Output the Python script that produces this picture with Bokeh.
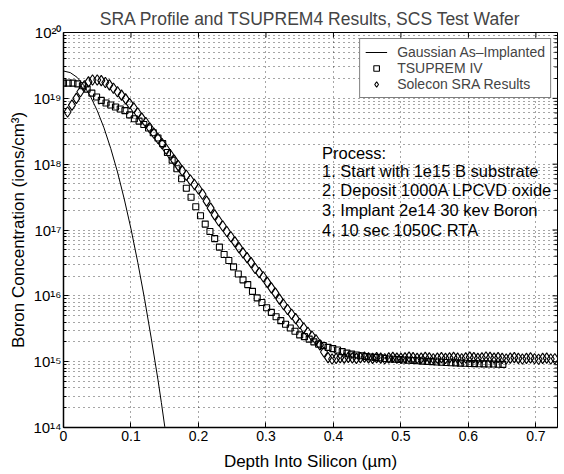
import math
from bokeh.plotting import figure
from bokeh.models import (FixedTicker, Label, Legend, LegendItem, CustomJSTickFormatter)
from bokeh.embed import file_html
from bokeh.resources import INLINE

# ---------------- data ----------------
gauss_x = [0.0, 0.01, 0.02, 0.03, 0.04, 0.05, 0.06, 0.07, 0.08, 0.09, 0.10,
           0.11, 0.12, 0.13, 0.14, 0.145, 0.15, 0.155]
gauss_y = [2.6e19, 2.46e19, 2.09e19, 1.58e19, 1.07e19, 6.5e18, 3.56e18, 1.73e18,
           7.6e17, 2.96e17, 1.04e17, 3.24e16, 9.1e15, 2.28e15, 5.3e14, 2.4e14,
           1.04e14, 4.5e13]

tsup_x = [0.000, 0.007, 0.014, 0.021, 0.028, 0.035, 0.042, 0.049, 0.056, 0.063,
          0.070, 0.077, 0.084, 0.091, 0.098, 0.105, 0.112, 0.119, 0.126, 0.133,
          0.140, 0.147, 0.154, 0.161, 0.168, 0.175, 0.182, 0.189, 0.196, 0.203,
          0.210, 0.217, 0.224, 0.231, 0.238, 0.245, 0.252, 0.259, 0.266, 0.273,
          0.280, 0.287, 0.294, 0.301, 0.308, 0.315, 0.322, 0.329, 0.336, 0.343,
          0.350, 0.357, 0.364, 0.371, 0.378, 0.385, 0.392, 0.399, 0.406, 0.413,
          0.420, 0.427, 0.434, 0.441, 0.448, 0.455, 0.462, 0.469, 0.476, 0.483,
          0.490, 0.497, 0.504, 0.511, 0.518, 0.525, 0.532, 0.539, 0.546, 0.553,
          0.560, 0.567, 0.574, 0.581, 0.588, 0.595, 0.602, 0.609, 0.616, 0.623,
          0.630, 0.637, 0.644, 0.651]
tsup_y = [1.7e19, 1.7e19, 1.7e19, 1.66e19, 1.55e19, 1.38e19, 1.2e19, 1.05e19, 9.3e18, 8.5e18,
          7.9e18, 7.4e18, 6.9e18, 6.5e18, 5.6e18, 4.9e18, 4.5e18, 4.0e18, 3.55e18, 3.0e18,
          2.5e18, 2.05e18, 1.5e18, 1.15e18, 8.5e17, 6.0e17, 4.3e17, 3.15e17, 2.25e17, 1.65e17,
          1.23e17, 9.5e16, 7.4e16, 5.5e16, 4.25e16, 3.45e16, 2.75e16, 2.15e16, 1.75e16, 1.48e16,
          1.17e16, 9.3e15, 7.9e15, 6.6e15, 5.6e15, 4.8e15, 4.2e15, 3.7e15, 3.25e15, 2.9e15,
          2.55e15, 2.4e15, 2.2e15, 2.0e15, 1.85e15, 1.75e15, 1.65e15, 1.58e15, 1.5e15, 1.42e15,
          1.35e15, 1.3e15, 1.26e15, 1.23e15, 1.2e15, 1.18e15, 1.16e15, 1.14e15, 1.12e15, 1.1e15,
          1.09e15, 1.08e15, 1.06e15, 1.05e15, 1.04e15, 1.03e15, 1.02e15, 1.01e15, 1.0e15, 9.9e14,
          9.8e14, 9.7e14, 9.65e14, 9.6e14, 9.5e14, 9.45e14, 9.4e14, 9.35e14, 9.3e14, 9.25e14,
          9.2e14, 9.2e14, 9.15e14, 9.1e14]

sra_x = [0.006, 0.0125, 0.019, 0.025, 0.031, 0.037, 0.043, 0.050, 0.056, 0.062,
         0.068, 0.074, 0.080, 0.086, 0.092, 0.098, 0.104, 0.110, 0.116, 0.122,
         0.128, 0.134, 0.140, 0.146, 0.152, 0.158, 0.164, 0.170, 0.176, 0.182,
         0.188, 0.194, 0.200, 0.206, 0.212, 0.218, 0.224, 0.230, 0.236, 0.242,
         0.248, 0.254, 0.260, 0.266, 0.272, 0.278, 0.284, 0.290, 0.296, 0.302,
         0.308, 0.314, 0.320, 0.326, 0.332, 0.338, 0.344, 0.350, 0.356, 0.362,
         0.368, 0.374, 0.380, 0.386, 0.392, 0.398, 0.404, 0.410, 0.416, 0.422,
         0.428, 0.434, 0.440, 0.446, 0.452, 0.458, 0.464, 0.470, 0.476, 0.482,
         0.488, 0.494, 0.500, 0.506, 0.512, 0.518, 0.524, 0.530, 0.536, 0.542,
         0.548, 0.554, 0.560, 0.566, 0.572, 0.578, 0.584, 0.590, 0.596, 0.602,
         0.608, 0.614, 0.620, 0.626, 0.632, 0.638, 0.644, 0.650, 0.656, 0.662,
         0.668, 0.674, 0.680, 0.686, 0.692, 0.698, 0.704, 0.710, 0.716, 0.722,
         0.728]
sra_y = [6.2e18, 7.9e18, 1.0e19, 1.26e19, 1.55e19, 1.78e19, 1.9e19, 1.9e19, 1.86e19, 1.74e19,
         1.6e19, 1.42e19, 1.26e19, 1.12e19, 9.8e18, 8.3e18, 7.2e18, 6.0e18, 5.0e18, 4.3e18,
         3.55e18, 2.95e18, 2.45e18, 2.05e18, 1.7e18, 1.4e18, 1.15e18, 9.5e17, 7.9e17, 6.8e17,
         5.75e17, 4.9e17, 4.2e17, 3.5e17, 2.75e17, 2.15e17, 1.7e17, 1.38e17, 1.15e17, 9.5e16,
         7.9e16, 6.6e16, 5.4e16, 4.5e16, 3.8e16, 3.2e16, 2.6e16, 2.25e16, 1.95e16, 1.6e16,
         1.32e16, 1.1e16, 8.9e15, 7.4e15, 6.2e15, 5.25e15, 4.5e15, 3.8e15, 3.25e15, 2.8e15,
         2.45e15, 2.15e15, 1.8e15, 1.4e15, 1.15e15, 1.1e15, 1.12e15, 1.15e15, 1.13e15, 1.16e15,
         1.14e15, 1.12e15, 1.15e15, 1.17e15, 1.14e15, 1.12e15, 1.15e15, 1.13e15, 1.11e15, 1.14e15,
         1.16e15, 1.13e15, 1.12e15, 1.14e15, 1.17e15, 1.15e15, 1.12e15, 1.13e15, 1.16e15, 1.14e15,
         1.11e15, 1.13e15, 1.15e15, 1.12e15, 1.14e15, 1.16e15, 1.13e15, 1.11e15, 1.14e15, 1.17e15,
         1.15e15, 1.12e15, 1.14e15, 1.18e15, 1.16e15, 1.13e15, 1.15e15, 1.12e15, 1.1e15, 1.13e15,
         1.15e15, 1.12e15, 1.1e15, 1.12e15, 1.14e15, 1.11e15, 1.09e15, 1.12e15, 1.13e15, 1.1e15,
         1.11e15]

series_labels = ["Gaussian As\u2013Implanted", "TSUPREM IV", "Solecon SRA Results"]

x_ticks = [0, 0.1, 0.2, 0.3, 0.4, 0.5, 0.6, 0.7]
x_tick_labels = ["0", "0.1", "0.2", "0.3", "0.4", "0.5", "0.6", "0.7"]
y_ticks = [1e14, 1e15, 1e16, 1e17, 1e18, 1e19, 1e20]
y_tick_labels = ["10\u00b9\u2074", "10\u00b9\u2075", "10\u00b9\u2076", "10\u00b9\u2077",
                 "10\u00b9\u2078", "10\u00b9\u2079", "10\u00b2\u2070"]
y_minor_ticks = [m * d for d in [1e14, 1e15, 1e16, 1e17, 1e18, 1e19] for m in range(2, 10)]

x_min, x_max = 0, 0.732
y_min, y_max = 1e14, 1e20

process_lines = ["Process:", "1. Start with 1e15 B substrate", "2. Deposit 1000A LPCVD oxide",
                 "3. Implant 2e14 30 kev Boron", "4. 10 sec 1050C RTA"]
process_y = [1.5e18, 7.9e17, 4.0e17, 2.0e17, 1.0e17]
process_x = 0.383

title_text = "SRA Profile and TSUPREM4 Results, SCS Test Wafer"
x_label = "Depth Into Silicon (\u00b5m)"
y_label = "Boron Concentration (ions/cm\u00b3)"

FONT = "Liberation Sans"

# ---------------- figure ----------------
p = figure(width=564, height=474, y_axis_type="log",
           x_range=(x_min, x_max), y_range=(y_min, y_max),
           output_backend="svg", toolbar_location=None,
           min_border_left=63, min_border_right=7, min_border_top=32, min_border_bottom=47)
p.title.text = title_text
p.title.text_font = FONT
p.title.text_font_size = "17.5px"
p.title.text_font_style = "normal"
p.title.align = "center"
p.title.standoff = 7
p.background_fill_color = "white"
p.border_fill_color = "white"
p.outline_line_color = "black"
p.outline_line_width = 1

xfmt = CustomJSTickFormatter(args=dict(tv=x_ticks, tl=x_tick_labels), code="""
let best = 0, bd = Infinity;
for (let i = 0; i < tv.length; i++) { const d = Math.abs(tick - tv[i]); if (d < bd) { bd = d; best = i; } }
return tl[best];
""")
yfmt = CustomJSTickFormatter(args=dict(tv=y_ticks, tl=y_tick_labels), code="""
let best = 0, bd = Infinity;
for (let i = 0; i < tv.length; i++) { const d = Math.abs(Math.log10(tick) - Math.log10(tv[i])); if (d < bd) { bd = d; best = i; } }
return tl[best];
""")

xt = FixedTicker(ticks=x_ticks, minor_ticks=[])
yt = FixedTicker(ticks=y_ticks, minor_ticks=y_minor_ticks)

for ax in p.xaxis:
    ax.ticker = xt
    ax.formatter = xfmt
for ax in p.yaxis:
    ax.ticker = yt
    ax.formatter = yfmt

for ax in p.xaxis + p.yaxis:
    ax.axis_line_color = "black"
    ax.axis_line_width = 1.5
    ax.major_tick_line_color = "black"
    ax.minor_tick_line_color = "black"
    ax.major_tick_in = 5
    ax.major_tick_out = 0
    ax.minor_tick_in = 3
    ax.minor_tick_out = 0
    ax.major_label_text_font = FONT
    ax.major_label_text_color = "black"
    ax.axis_label_text_font = FONT
    ax.axis_label_text_font_size = "17px"
    ax.axis_label_text_font_style = "normal"
    ax.axis_label_text_color = "black"

p.xaxis.axis_label = x_label
p.yaxis.axis_label = y_label
p.xaxis.major_label_text_font_size = "14px"
p.yaxis.major_label_text_font_size = "15px"
p.xaxis.major_label_standoff = 3
p.xaxis.axis_label_standoff = 8
p.yaxis.major_label_standoff = 2
p.yaxis.axis_label_standoff = 2

# inward ticks on the top and right frame edges (box on)
p.ray(x=[x_max] * len(y_ticks), y=y_ticks, length=5, length_units="screen",
      angle=math.pi, line_color="black", line_width=1)
p.ray(x=[x_max] * len(y_minor_ticks), y=y_minor_ticks, length=3, length_units="screen",
      angle=math.pi, line_color="black", line_width=1)
p.ray(x=x_ticks, y=[y_max] * len(x_ticks), length=5, length_units="screen",
      angle=-math.pi / 2, line_color="black", line_width=1)

# grids: dotted
p.xgrid.ticker = xt
p.ygrid.ticker = yt
for g in (p.xgrid, p.ygrid):
    g.grid_line_color = "black"
    g.grid_line_alpha = 0.7
    g.grid_line_dash = "1 4"
    g.grid_line_width = 1
p.ygrid.minor_grid_line_color = "black"
p.ygrid.minor_grid_line_alpha = 0.7
p.ygrid.minor_grid_line_dash = "1 4"

# ---------------- data renderers ----------------
r_g = p.line(gauss_x, gauss_y, line_color="black", line_width=1)
r_t = p.scatter(tsup_x, tsup_y, marker="square", size=6, fill_color=None,
                line_color="black", line_width=1.1)
r_s = p.scatter(sra_x, sra_y, marker="diamond", size=10.5, fill_color=None,
                line_color="black", line_width=1.1)

legend = Legend(items=[LegendItem(label=series_labels[0], renderers=[r_g]),
                       LegendItem(label=series_labels[1], renderers=[r_t]),
                       LegendItem(label=series_labels[2], renderers=[r_s])],
                location="top_right")
legend.label_text_font = FONT
legend.label_text_font_size = "14px"
legend.label_height = 14
legend.glyph_height = 14
legend.glyph_width = 22
legend.label_standoff = 10
legend.spacing = 0
legend.padding = 5
legend.margin = 6
legend.border_line_color = "black"
legend.border_line_width = 1
legend.background_fill_color = "white"
legend.background_fill_alpha = 1
p.add_layout(legend)

for txt, yy in zip(process_lines, process_y):
    p.add_layout(Label(x=process_x, y=yy, text=txt, text_font=FONT, text_font_size="16.5px",
                       text_baseline="middle", text_align="left", text_color="black"))

open("out.html", "w").write(file_html(p, INLINE))
